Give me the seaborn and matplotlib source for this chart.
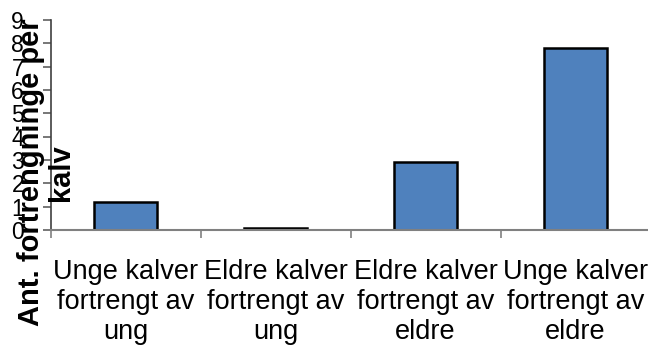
import matplotlib
matplotlib.use("Agg")
import matplotlib.pyplot as plt
import seaborn as sns
import pandas as pd

# Displacements per calf, by group
categories = [
    "Unge kalver\nfortrengt av\nung",
    "Eldre kalver\nfortrengt av\nung",
    "Eldre kalver\nfortrengt av\neldre",
    "Unge kalver\nfortrengt av\neldre",
]
values = [1.2, 0.1, 2.9, 7.8]
y_ticks = list(range(0, 10))
y_label = "Ant. fortrengninge per\nkalv"

df = pd.DataFrame({"gruppe": categories, "antall": values})

sns.set_theme(style="white")
plt.rcParams["font.family"] = ["Liberation Sans", "DejaVu Sans"]

fig = plt.figure(figsize=(6.48, 3.45), dpi=100)
ax = fig.add_axes([50.5 / 648, 115 / 345, 600 / 648, 210 / 345])

sns.barplot(data=df, x="gruppe", y="antall", ax=ax, width=0.42,
            color="#4F81BD", saturation=1, edgecolor="black", linewidth=1.8)

ax.set_xlim(-0.5, 3.5)
ax.set_ylim(0, 9)
ax.set_yticks(y_ticks)
ax.set_yticklabels([str(t) for t in y_ticks], fontsize=16.5, color="black")
ax.set_xlabel("")
ax.set_ylabel("")

# category labels centred under each bar, tick marks between categories
ax.set_xticks(range(len(categories)))
ax.set_xticklabels(categories, fontsize=19.5, linespacing=1.2, color="black")
ax.set_xticks([-0.5, 0.5, 1.5, 2.5, 3.5], minor=True)
ax.tick_params(axis="x", which="major", length=0, pad=21)
ax.tick_params(axis="x", which="minor", length=6, width=1.2,
               color="#808080", direction="out", bottom=True)
ax.tick_params(axis="y", which="major", length=6, width=1.2,
               color="#606060", direction="out", left=True, pad=13)

for side in ("top", "right"):
    ax.spines[side].set_visible(False)
ax.spines["left"].set_color("#404040")
ax.spines["left"].set_linewidth(1.2)
ax.spines["bottom"].set_color("#808080")
ax.spines["bottom"].set_linewidth(1.5)

fig.text(46 / 648, 0.5, y_label, rotation=90, ha="center", va="center",
         multialignment="center", fontsize=21, fontweight="bold",
         linespacing=1.05, color="black")

fig.savefig("out.png", dpi=100)
